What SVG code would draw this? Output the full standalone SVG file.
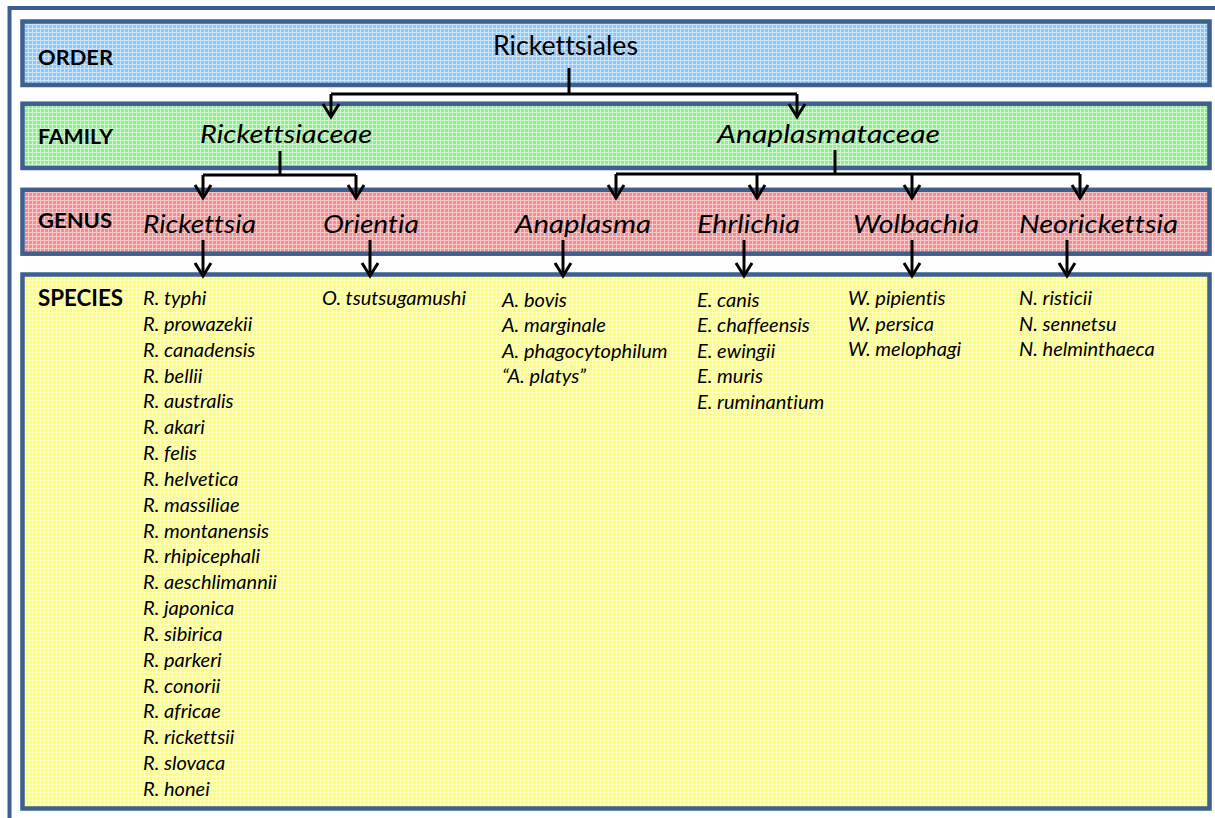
<svg xmlns="http://www.w3.org/2000/svg" width="1215" height="818" viewBox="0 0 1215 818">
<defs>
<pattern id="pBlue" width="4" height="4" patternUnits="userSpaceOnUse"><rect width="4" height="4" fill="#8CC6FF"/><path d="M0 0.5H4M0.5 0V4" stroke="#CBE5FF" stroke-width="1"/></pattern>
<pattern id="pGreen" width="4" height="4" patternUnits="userSpaceOnUse"><rect width="4" height="4" fill="#8CEE8C"/><path d="M0 0.5H4M0.5 0V4" stroke="#CFF8CF" stroke-width="1"/></pattern>
<pattern id="pRed" width="4" height="4" patternUnits="userSpaceOnUse"><rect width="4" height="4" fill="#F48C91"/><path d="M0 0.5H4M0.5 0V4" stroke="#FAC8C8" stroke-width="1"/></pattern>
<pattern id="pYellow" width="4" height="4" patternUnits="userSpaceOnUse"><rect width="4" height="4" fill="#FFFF70"/><path d="M0 0.5H4M0.5 0V4" stroke="#FFFFBC" stroke-width="1"/></pattern>
<marker id="arr" markerUnits="userSpaceOnUse" orient="auto" refX="0" refY="0" markerWidth="30" markerHeight="30" style="overflow:visible">
<path d="M-13,-8 L0,0 L-13,8" fill="none" stroke="#000" stroke-width="3" stroke-linejoin="miter"/>
</marker>
<style>
text{font-variant-ligatures:none}
.band{stroke:#3E6090;stroke-width:4.5}
.lbl{font-family:Lato,"Liberation Sans",sans-serif;font-weight:bold;fill:#000}
.nm{font-family:Lato,"Liberation Sans",sans-serif;font-style:italic;font-size:26px;fill:#000}
.sp{font-family:Lato,"Liberation Sans",sans-serif;font-style:italic;font-size:20px;fill:#000}
.cn{fill:none;stroke:#000;stroke-width:3}
</style>
</defs>
<rect x="9.5" y="8" width="1230" height="830" fill="#fff" stroke="#3E6090" stroke-width="4"/>

<g id="band-order">
<rect class="band" x="22.5" y="21.5" width="1187" height="63.5" fill="url(#pBlue)"/>
<text class="lbl" x="38" y="65" font-size="20.5" textLength="75" lengthAdjust="spacingAndGlyphs">ORDER</text>
</g>
<g id="band-family">
<rect class="band" x="22.5" y="103.7" width="1187" height="64.3" fill="url(#pGreen)"/>
<text class="lbl" x="38" y="144" font-size="20.5" textLength="75" lengthAdjust="spacingAndGlyphs">FAMILY</text>
</g>
<g id="band-genus">
<rect class="band" x="22.5" y="189.8" width="1187" height="63.9" fill="url(#pRed)"/>
<text class="lbl" x="38" y="228" font-size="20.5" textLength="74" lengthAdjust="spacingAndGlyphs">GENUS</text>
</g>
<g id="band-species">
<rect class="band" x="22.5" y="274.5" width="1187" height="534" fill="url(#pYellow)"/>
<text class="lbl" x="38" y="306" font-size="23" textLength="85" lengthAdjust="spacingAndGlyphs">SPECIES</text>
</g>

<g id="node-rickettsiales">
<text x="493" y="55" font-family="Lato,'Liberation Sans',sans-serif" font-size="26" textLength="145" lengthAdjust="spacingAndGlyphs">Rickettsiales</text>
</g>
<g id="node-rickettsiaceae"><text class="nm" x="200" y="143" textLength="172" lengthAdjust="spacingAndGlyphs">Rickettsiaceae</text></g>
<g id="node-anaplasmataceae"><text class="nm" x="717" y="143" textLength="223" lengthAdjust="spacingAndGlyphs">Anaplasmataceae</text></g>

<g id="node-rickettsia"><text class="nm" x="143" y="233" textLength="113" lengthAdjust="spacingAndGlyphs">Rickettsia</text></g>
<g id="node-orientia"><text class="nm" x="323" y="233" textLength="96" lengthAdjust="spacingAndGlyphs">Orientia</text></g>
<g id="node-anaplasma"><text class="nm" x="515" y="233" textLength="136" lengthAdjust="spacingAndGlyphs">Anaplasma</text></g>
<g id="node-ehrlichia"><text class="nm" x="697" y="233" textLength="103" lengthAdjust="spacingAndGlyphs">Ehrlichia</text></g>
<g id="node-wolbachia"><text class="nm" x="853" y="233" textLength="126" lengthAdjust="spacingAndGlyphs">Wolbachia</text></g>
<g id="node-neorickettsia"><text class="nm" x="1019" y="233" textLength="159" lengthAdjust="spacingAndGlyphs">Neorickettsia</text></g>

<g id="species-rickettsia">
<text class="sp" x="143" y="305">R. typhi</text>
<text class="sp" x="143" y="330.8">R. prowazekii</text>
<text class="sp" x="143" y="356.7">R. canadensis</text>
<text class="sp" x="143" y="382.5">R. bellii</text>
<text class="sp" x="143" y="408.4">R. australis</text>
<text class="sp" x="143" y="434.2">R. akari</text>
<text class="sp" x="143" y="460">R. felis</text>
<text class="sp" x="143" y="485.9">R. helvetica</text>
<text class="sp" x="143" y="511.7">R. massiliae</text>
<text class="sp" x="143" y="537.6">R. montanensis</text>
<text class="sp" x="143" y="563.4">R. rhipicephali</text>
<text class="sp" x="143" y="589.2">R. aeschlimannii</text>
<text class="sp" x="143" y="615.1">R. japonica</text>
<text class="sp" x="143" y="640.9">R. sibirica</text>
<text class="sp" x="143" y="666.8">R. parkeri</text>
<text class="sp" x="143" y="692.6">R. conorii</text>
<text class="sp" x="143" y="718.4">R. africae</text>
<text class="sp" x="143" y="744.3">R. rickettsii</text>
<text class="sp" x="143" y="770.1">R. slovaca</text>
<text class="sp" x="143" y="796">R. honei</text>
</g>
<g id="species-orientia">
<text class="sp" x="322" y="305">O. tsutsugamushi</text>
</g>
<g id="species-anaplasma">
<text class="sp" x="502" y="306.5">A. bovis</text>
<text class="sp" x="502" y="332">A. marginale</text>
<text class="sp" x="502" y="357.5">A. phagocytophilum</text>
<text class="sp" x="502" y="383">“A. platys”</text>
</g>
<g id="species-ehrlichia">
<text class="sp" x="697" y="306.5">E. canis</text>
<text class="sp" x="697" y="332">E. chaffeensis</text>
<text class="sp" x="697" y="357.5">E. ewingii</text>
<text class="sp" x="697" y="383">E. muris</text>
<text class="sp" x="697" y="408.5">E. ruminantium</text>
</g>
<g id="species-wolbachia">
<text class="sp" x="848" y="305">W. pipientis</text>
<text class="sp" x="848" y="330.5">W. persica</text>
<text class="sp" x="848" y="356">W. melophagi</text>
</g>
<g id="species-neorickettsia">
<text class="sp" x="1019" y="305">N. risticii</text>
<text class="sp" x="1019" y="330.5">N. sennetsu</text>
<text class="sp" x="1019" y="356">N. helminthaeca</text>
</g>

<g id="connectors">
<path class="cn" d="M569,68 V94 M331,94 H797"/>
<path class="cn" d="M331,94 V117" marker-end="url(#arr)"/>
<path class="cn" d="M797,94 V117" marker-end="url(#arr)"/>
<path class="cn" d="M280,151 V175 M203,175 H356"/>
<path class="cn" d="M203,175 V198" marker-end="url(#arr)"/>
<path class="cn" d="M356,175 V198" marker-end="url(#arr)"/>
<path class="cn" d="M835,150 V174 M616,174 H1080"/>
<path class="cn" d="M616,174 V198" marker-end="url(#arr)"/>
<path class="cn" d="M757,174 V198" marker-end="url(#arr)"/>
<path class="cn" d="M912,174 V198" marker-end="url(#arr)"/>
<path class="cn" d="M1080,174 V198" marker-end="url(#arr)"/>
<path class="cn" d="M203,240 V276" marker-end="url(#arr)"/>
<path class="cn" d="M370,240 V276" marker-end="url(#arr)"/>
<path class="cn" d="M563,240 V276" marker-end="url(#arr)"/>
<path class="cn" d="M744,240 V276" marker-end="url(#arr)"/>
<path class="cn" d="M912,240 V276" marker-end="url(#arr)"/>
<path class="cn" d="M1067,240 V276" marker-end="url(#arr)"/>
</g>
</svg>
